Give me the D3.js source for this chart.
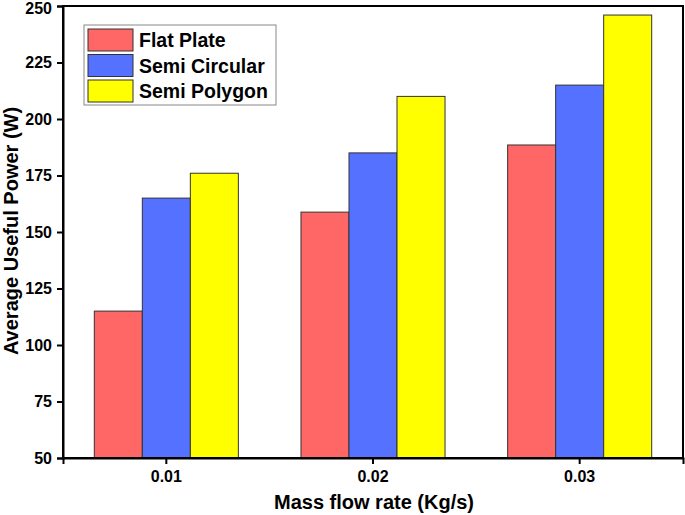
<!DOCTYPE html>
<html><head><meta charset="utf-8">
<script src="https://cdn.jsdelivr.net/npm/d3@7"></script>
<style>body{margin:0;background:#fff;} text{font-family:"Liberation Sans",Arial,sans-serif;font-weight:bold;}</style>
</head><body>
<svg id="c" width="685" height="515"></svg>
<script>
const categories = ["0.01", "0.02", "0.03"];
const seriesNames = ["Flat Plate", "Semi Circular", "Semi Polygon"];
const flatPlate = [115, 158.8, 188.5];
const semiCircular = [165, 185, 215];
const semiPolygon = [176, 210, 246];
const yTicks = [50, 75, 100, 125, 150, 175, 200, 225, 250];
const colors = ["#FF6666", "#5571FF", "#FFFF00"];
const series = [flatPlate, semiCircular, semiPolygon];

const svg = d3.select("#c");
const m = {l: 63, r: 683, t: 6, b: 458};
const x = d3.scaleBand().domain(categories).range([m.l, m.r]).paddingInner(0.303).paddingOuter(0.1515);
const xs = d3.scaleBand().domain(seriesNames).range([0, x.bandwidth()]);
const y = d3.scaleLinear().domain([50, 250]).range([m.b, m.t]);

// bars
series.forEach((vals, si) => {
  svg.append("g").selectAll("rect").data(vals).join("rect")
    .attr("x", (d, i) => x(categories[i]) + xs(seriesNames[si]))
    .attr("y", d => y(d))
    .attr("width", xs.bandwidth())
    .attr("height", d => y(50) - y(d))
    .attr("fill", colors[si])
    .attr("stroke", "#333")
    .attr("stroke-width", 1);
});

// frame
svg.append("rect").attr("x", m.l).attr("y", m.t).attr("width", m.r - m.l).attr("height", m.b - m.t)
  .attr("fill", "none").attr("stroke", "#000").attr("stroke-width", 2);

// axes
const yAxis = svg.append("g").attr("transform", `translate(${m.l},0)`)
  .call(d3.axisLeft(y).tickValues(yTicks).tickSize(6).tickPadding(5));
const xAxis = svg.append("g").attr("transform", `translate(0,${m.b})`)
  .call(d3.axisBottom(x).tickSize(6).tickPadding(7));
[yAxis, xAxis].forEach(a => {
  a.select(".domain").attr("stroke-width", 2);
  a.selectAll(".tick line").attr("stroke-width", 2);
  a.selectAll("text").attr("font-size", 16).attr("font-weight", "bold").attr("fill", "#000")
    .attr("font-family", "Liberation Sans, Arial, sans-serif");
});
yAxis.selectAll(".tick text").filter(d => d === 250).attr("dy", "0.45em");

// titles
svg.append("text").attr("x", 374).attr("y", 509).attr("text-anchor", "middle")
  .attr("font-size", 20).text("Mass flow rate (Kg/s)");
svg.append("text").attr("transform", "translate(18,231) rotate(-90)").attr("text-anchor", "middle")
  .attr("font-size", 20).text("Average Useful Power (W)");

// legend
const lg = svg.append("g");
lg.append("rect").attr("x", 84).attr("y", 25).attr("width", 192).attr("height", 80)
  .attr("fill", "#fff").attr("stroke", "#888").attr("stroke-width", 1);
seriesNames.forEach((n, i) => {
  const yy = 29 + i * 25.5;
  lg.append("rect").attr("x", 88).attr("y", yy).attr("width", 45).attr("height", 22)
    .attr("fill", colors[i]).attr("stroke", "#333");
  lg.append("text").attr("x", 139).attr("y", yy + 18).attr("font-size", 19.5).text(n);
});
</script>
</body></html>
